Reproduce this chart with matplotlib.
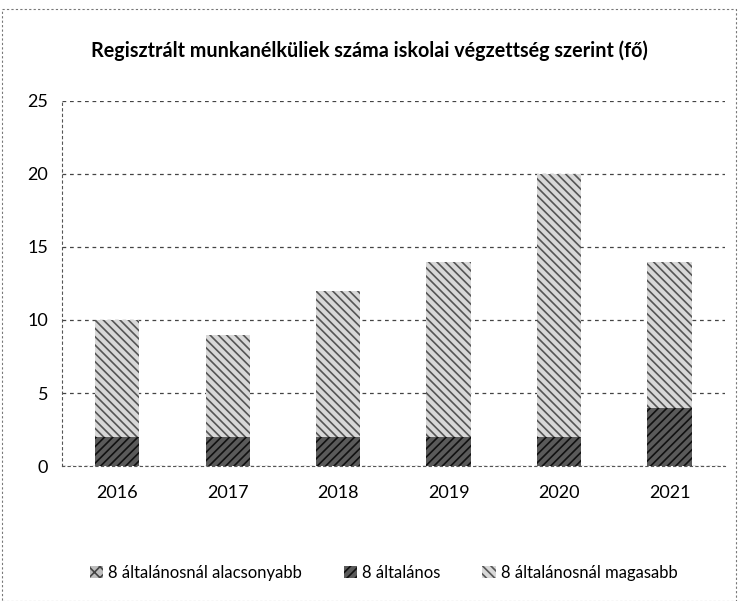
import matplotlib
matplotlib.use("Agg")
import matplotlib.pyplot as plt
from matplotlib.patches import Rectangle
import numpy as np

evek = ["2016", "2017", "2018", "2019", "2020", "2021"]
alacsonyabb = [0, 0, 0, 0, 0, 0]
altalanos = [2, 2, 2, 2, 2, 4]
magasabb = [8, 7, 10, 12, 18, 10]

plt.rcParams["font.family"] = ["Lato", "DejaVu Sans"]
plt.rcParams["hatch.linewidth"] = 1.2

fig = plt.figure(figsize=(7.38, 6.01), dpi=100)
ax = fig.add_axes([0.084, 0.2246, 0.898, 0.6074])

x = np.arange(len(evek))
szel = 0.4

b1 = ax.bar(x, alacsonyabb, szel, color="#bdbdbd", hatch="xxx", edgecolor="#444444", linewidth=0)
b2 = ax.bar(x, altalanos, szel, bottom=alacsonyabb, color="#5a5a5a", hatch="////", edgecolor="#111111", linewidth=0)
also = [a + b for a, b in zip(alacsonyabb, altalanos)]
b3 = ax.bar(x, magasabb, szel, bottom=also, color="#d8d8d8", hatch="\\\\\\\\", edgecolor="#555555", linewidth=0)

ax.set_ylim(0, 25)
ax.set_xlim(-0.5, len(evek) - 0.5)
ax.set_yticks([0, 5, 10, 15, 20, 25])
ax.set_xticks(x)
ax.set_xticklabels(evek)
ax.tick_params(axis="both", labelsize=13, length=0, pad=14)
ax.tick_params(axis="y", pad=10)
ax.yaxis.grid(True, linestyle=(0, (3, 3)), color="#444444", linewidth=0.9)
ax.set_axisbelow(True)
for s in ["top", "right"]:
    ax.spines[s].set_visible(False)
ax.spines["left"].set_linestyle((0, (2, 3)))
ax.spines["left"].set_color("#555555")
ax.spines["bottom"].set_linestyle((0, (2, 3)))
ax.spines["bottom"].set_color("#555555")

fig.text(0.5, 0.915, "Regisztrált munkanélküliek száma iskolai végzettség szerint (fő)",
         ha="center", va="center", fontsize=14.2, fontweight="bold")

fig.legend([b1, b2, b3],
           ["8 általánosnál alacsonyabb", "8 általános", "8 általánosnál magasabb"],
           loc="center", bbox_to_anchor=(0.52, 0.047), ncol=3, frameon=False,
           fontsize=12, handlelength=0.8, handleheight=0.8, columnspacing=2.5, handletextpad=0.3)

fig.patches.append(Rectangle((0.003, 0.0), 0.994, 0.985, transform=fig.transFigure,
                             fill=False, linestyle=(0, (2, 2)), edgecolor="#777777", linewidth=0.8))

fig.savefig("out.png", dpi=100)
